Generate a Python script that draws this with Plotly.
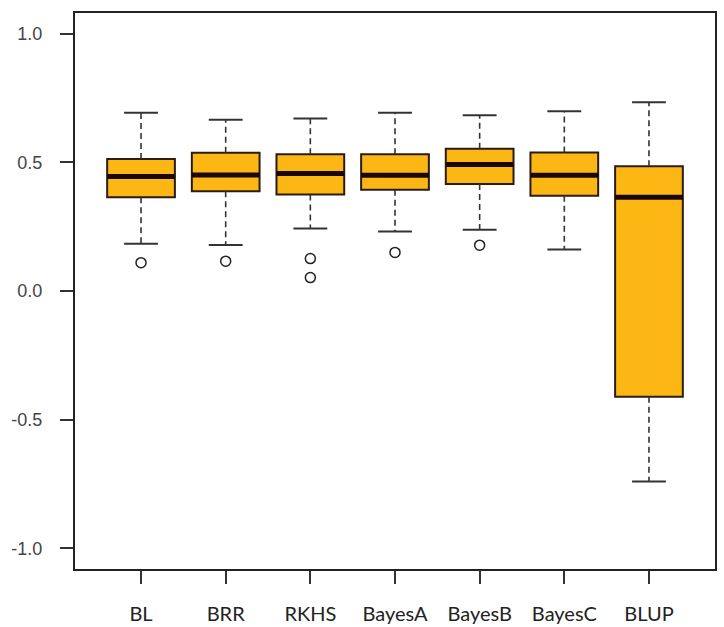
import plotly.graph_objects as go

# Prediction accuracy of each genomic prediction model
models = ["BL", "BRR", "RKHS", "BayesA", "BayesB", "BayesC", "BLUP"]
upper_whisker = [0.692, 0.665, 0.670, 0.692, 0.683, 0.698, 0.733]
q3 = [0.513, 0.537, 0.531, 0.531, 0.553, 0.538, 0.485]
median = [0.445, 0.451, 0.456, 0.450, 0.491, 0.450, 0.364]
q1 = [0.364, 0.388, 0.375, 0.393, 0.416, 0.370, -0.411]
lower_whisker = [0.184, 0.179, 0.243, 0.231, 0.238, 0.161, -0.740]
outliers = {
    "BL": [0.110],
    "BRR": [0.116],
    "RKHS": [0.126, 0.052],
    "BayesA": [0.150],
    "BayesB": [0.178],
}
y_ticks = [-1.0, -0.5, 0.0, 0.5, 1.0]

positions = list(range(1, len(models) + 1))
box_w = 0.8
cap_w = 0.4

fill = "#FDB714"
edge = "#2a1c10"
ink = "#333333"

fig = go.Figure()

# dashed whiskers from the box edges out to the extremes
wx, wy = [], []
for p, lo, a, b, hi in zip(positions, lower_whisker, q1, q3, upper_whisker):
    wx += [p, p, None, p, p, None]
    wy += [b, hi, None, a, lo, None]
fig.add_trace(go.Scatter(x=wx, y=wy, mode="lines",
                         line=dict(color=ink, width=1.6, dash="6px,4px"),
                         hoverinfo="skip", showlegend=False))

# whisker staples
cx, cy = [], []
for p, lo, hi in zip(positions, lower_whisker, upper_whisker):
    cx += [p - cap_w / 2, p + cap_w / 2, None, p - cap_w / 2, p + cap_w / 2, None]
    cy += [hi, hi, None, lo, lo, None]
fig.add_trace(go.Scatter(x=cx, y=cy, mode="lines",
                         line=dict(color=ink, width=2),
                         hoverinfo="skip", showlegend=False))

# boxes (interquartile range)
fig.add_trace(go.Box(
    x=positions, q1=q1, median=median, q3=q3,
    lowerfence=q1, upperfence=q3,
    width=box_w, whiskerwidth=0,
    fillcolor=fill, line=dict(color=edge, width=2),
    boxpoints=False, showlegend=False, hoverinfo="skip",
))

# thick median bars
mx, my = [], []
for p, m in zip(positions, median):
    mx += [p - box_w / 2, p + box_w / 2, None]
    my += [m, m, None]
fig.add_trace(go.Scatter(x=mx, y=my, mode="lines",
                         line=dict(color="#1a0800", width=5),
                         hoverinfo="skip", showlegend=False))

# outlying observations
ox, oy = [], []
for name, vals in outliers.items():
    p = positions[models.index(name)]
    for v in vals:
        ox.append(p)
        oy.append(v)
fig.add_trace(go.Scatter(x=ox, y=oy, mode="markers",
                         marker=dict(symbol="circle-open", size=10,
                                     color="#222222", line=dict(width=1.5)),
                         hoverinfo="skip", showlegend=False))

fig.update_layout(
    width=724, height=627,
    margin=dict(l=75, r=9, t=13, b=58),
    paper_bgcolor="white", plot_bgcolor="white",
    showlegend=False,
)
fig.update_xaxes(
    range=[0.22, 7.78],
    tickmode="array", tickvals=positions, ticktext=models,
    ticks="outside", ticklen=13, tickwidth=1.5, tickcolor=ink,
    showline=True, linecolor="#222222", linewidth=2, mirror=True,
    showgrid=False, zeroline=False, automargin=False,
    tickfont=dict(family="Lato", size=20, color="#222222"),
    ticklabelstandoff=13,
)
fig.update_yaxes(
    range=[-1.08, 1.08],
    tickmode="array", tickvals=y_ticks,
    ticktext=[f"{v:.1f}" for v in y_ticks],
    ticks="outside", ticklen=13, tickwidth=1.5, tickcolor=ink,
    showline=True, linecolor="#222222", linewidth=2, mirror=True,
    showgrid=False, zeroline=False, automargin=False,
    tickfont=dict(family="Liberation Sans", size=18, color="#444444"),
    ticklabelstandoff=14,
)

fig.write_html("out.html")
